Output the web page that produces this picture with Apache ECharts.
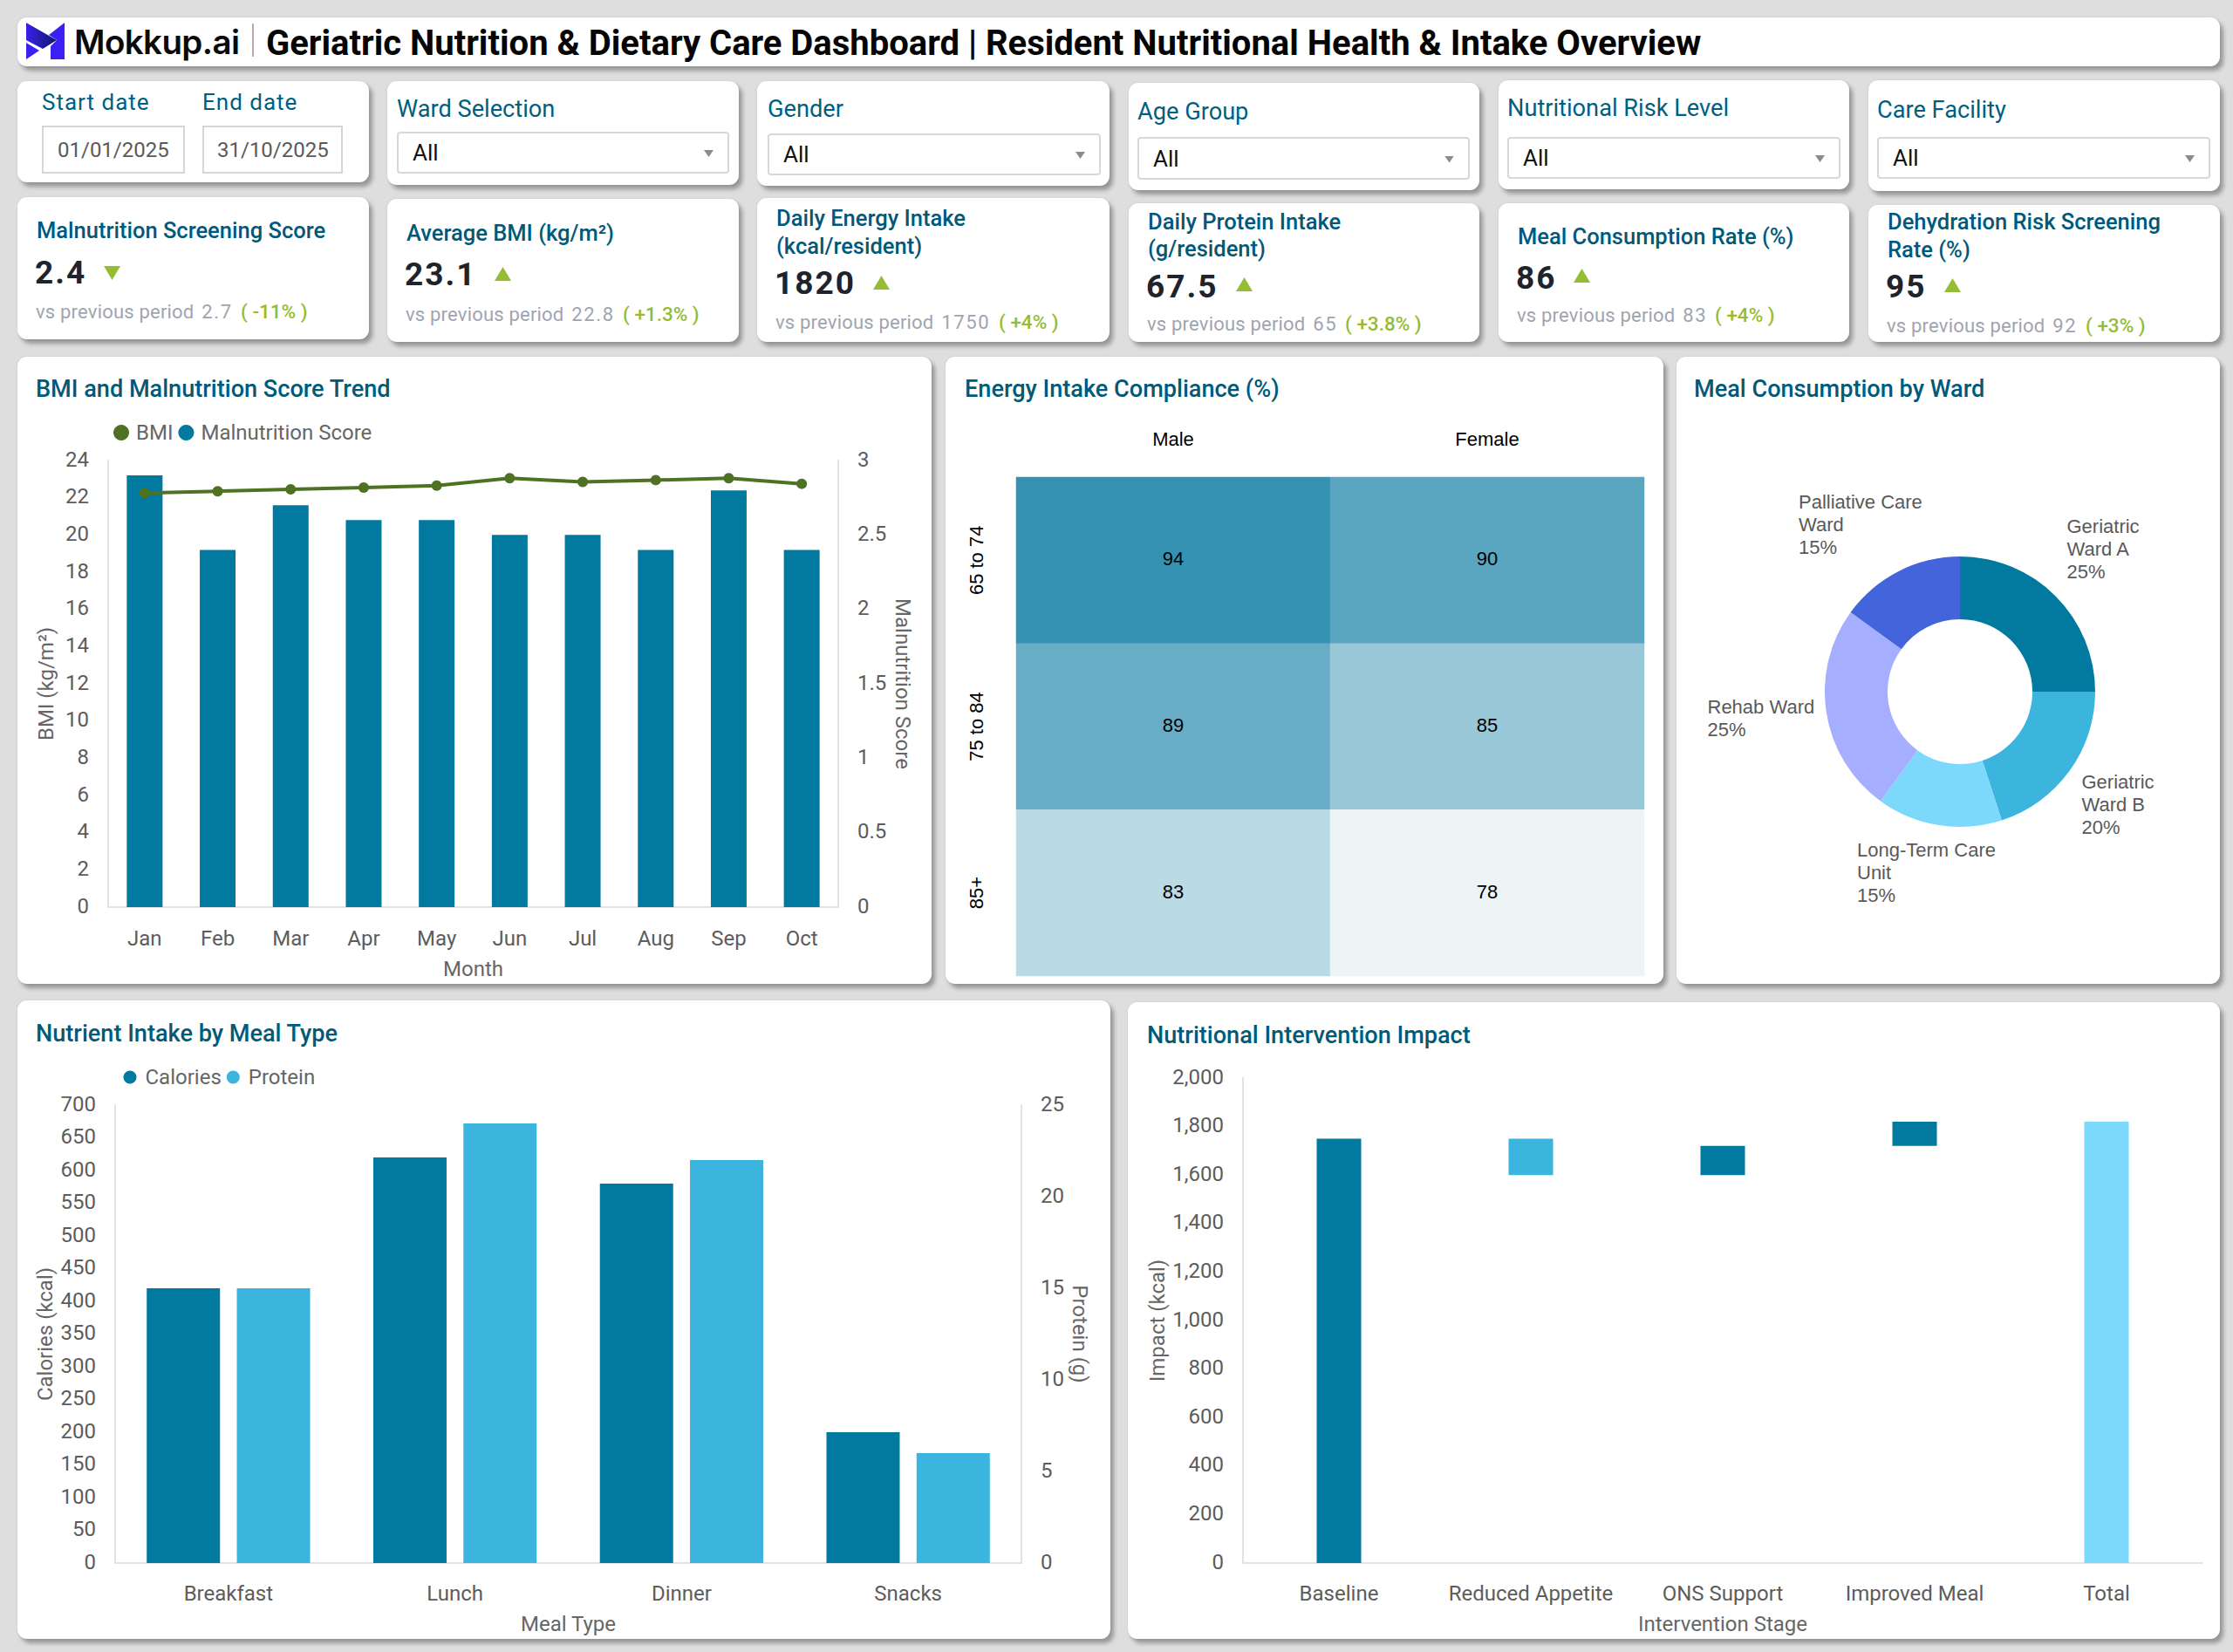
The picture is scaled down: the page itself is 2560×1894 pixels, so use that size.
<!DOCTYPE html>
<html><head><meta charset="utf-8">
<style>
html,body{margin:0;padding:0;width:2560px;height:1894px;overflow:hidden;background:#dedede;font-family:Roboto,sans-serif}
.card{position:absolute;background:#fff;border-radius:11px;box-shadow:4px 5px 5px rgba(0,0,0,.32),0 0 3px rgba(0,0,0,.08)}
.t{position:absolute;white-space:nowrap;transform:translateY(-50%);line-height:1}
.box{position:absolute;box-sizing:border-box;background:#fff}
.chart{position:absolute}
</style></head><body>
<svg style="position:absolute;left:0;top:0;z-index:5" width="90" height="80" id="logo">
<defs><linearGradient id="lg" x1="0" x2="1" y1="0" y2="0"><stop offset="0" stop-color="#3a20e8"/><stop offset="1" stop-color="#0c1a6a"/></linearGradient></defs>
<path d="M30 26L65 46L49 56L30 46Z" fill="url(#lg)"/>
<path d="M30 49L45 58L30 68Z" fill="#3b1ff5"/>
<path d="M74 26L74 68L58 68L58 53L65 46L56 40Z" fill="#3b1ff5"/>
</svg>
<script src="https://cdn.jsdelivr.net/npm/echarts@6/dist/echarts.min.js"></script>
<script>
// ---------- data ----------
const months = ['Jan','Feb','Mar','Apr','May','Jun','Jul','Aug','Sep','Oct'];
const bmiValues = [22.25,22.35,22.45,22.55,22.65,23.05,22.85,22.95,23.05,22.75];
const malnutritionValues = [2.9,2.4,2.7,2.6,2.6,2.5,2.5,2.4,2.8,2.4];
const genders = ['Male','Female'];
const ageBands = ['65 to 74','75 to 84','85+'];
const complianceMale = [94,89,83];
const complianceFemale = [90,85,78];
const wards = ['Geriatric Ward A','Geriatric Ward B','Long-Term Care Unit','Rehab Ward','Palliative Care Ward'];
const wardLabels = ['Geriatric\nWard A','Geriatric\nWard B','Long-Term Care\nUnit','Rehab Ward','Palliative Care\nWard'];
const wardShares = [25,20,15,25,15];
const mealTypes = ['Breakfast','Lunch','Dinner','Snacks'];
const calories = [420,620,580,200];
const protein = [15,24,22,6];
const stages = ['Baseline','Reduced Appetite','ONS Support','Improved Meal','Total'];
const impactBase = [0,1600,1600,1720,0];
const impactBaseline = [1750,null,null,null,null];
const impactDecrease = [null,150,null,null,null];
const impactIncrease = [null,null,120,100,null];
const impactTotal = [null,null,null,null,1820];
const kpiTitles = [['Malnutrition Screening Score'],['Average BMI (kg/m²)'],['Daily Energy Intake','(kcal/resident)'],['Daily Protein Intake','(g/resident)'],['Meal Consumption Rate (%)'],['Dehydration Risk Screening','Rate (%)']];
const kpiValues = ['2.4','23.1','1820','67.5','86','95'];
const kpiPrevious = ['2.7','22.8','1750','65','83','92'];
const kpiDeltas = ['-11%','+1.3%','+4%','+3.8%','+4%','+3%'];
const kpiDown = [true,false,false,false,false,false];
const filterLabels = ['Ward Selection','Gender','Age Group','Nutritional Risk Level','Care Facility'];
const filterValue = 'All';
const startDate = '01/01/2025', endDate = '31/10/2025';

// ---------- palette ----------
const TEAL='#02799f', SKY='#3bb5de', ICE='#7cd9fc', LILAC='#a5aeff', ROYAL='#4464dc', GREEN='#4f7124';
const HEAD='#005a78', AXIS='#5c5c5c', LINE='#e2e2e2', UP='#94bc34';
const heatColours = {94:'#3692b3',90:'#5aa5bf',89:'#68adc5',85:'#98c8d8',83:'#badae4',78:'#ecf4f6'};

// ---------- layout of the page ----------
const cardRects = [[20,20,2545,76],[20,93,423,209],[444,93,847,212],[868,93,1272,213],[1294,95,1696,218],[1718,92,2120,217],[2142,92,2545,219],
 [20,226,423,389],[444,228,847,392],[868,227,1272,392],[1294,233,1696,392],[1718,233,2120,392],[2142,235,2545,392],
 [20,409,1068,1128],[1084,409,1907,1128],[1922,409,2545,1128],[20,1147,1273,1879],[1293,1149,2545,1879]];
cardRects.forEach(r=>{const d=document.createElement('div');d.className='card';d.style.cssText=`left:${r[0]}px;top:${r[1]}px;width:${r[2]-r[0]}px;height:${r[3]-r[1]}px`;document.body.appendChild(d);});
function text(x,y,s,css){const d=document.createElement('div');d.className='t';d.textContent=s;d.style.cssText=`left:${x}px;top:${y}px;z-index:4;`+css;document.body.appendChild(d);return d;}
function box(x0,y0,x1,y1,css){const d=document.createElement('div');d.className='box';d.style.cssText=`left:${x0}px;top:${y0}px;width:${x1-x0}px;height:${y1-y0}px;z-index:3;`+css;document.body.appendChild(d);}

text(85,48,'Mokkup.ai','font:600 38.5px Inter,sans-serif;color:#0a0a0a;letter-spacing:-.6px');
box(289,27,291,65,'background:#b9a9a9');
text(305,49,'Geriatric Nutrition & Dietary Care Dashboard | Resident Nutritional Health & Intake Overview','font:700 40px Roboto;color:#050505');

const labelCss='font:400 26px Roboto;color:#005f80;';
text(48,117,'Start date',labelCss+'letter-spacing:1px');
text(232,117,'End date',labelCss+'letter-spacing:1px');
box(48,144,212,199,'border:2px solid #d6d6d6');
box(232,144,393,199,'border:2px solid #d6d6d6');
text(66,172,startDate,'font:400 24px Roboto;color:#5a5a5a;letter-spacing:0');
text(249,172,endDate,'font:400 24px Roboto;color:#5a5a5a;letter-spacing:0');

const filterBoxes=[[455,125,151,199,836],[880,125,153,201,1262],[1304,128,157,206,1685],[1728,124,157,205,2110],[2152,126,157,205,2534]];
filterBoxes.forEach((b,i)=>{
 text(b[0],b[1],filterLabels[i],'font:400 27.2px Roboto;color:#005f80');
 box(b[0],b[2],b[4],b[3],'border:2px solid #d8d8d8;border-radius:4px');
 const cy=(b[2]+b[3])/2;
 text(b[0]+18,cy,filterValue,'font:400 26px Roboto;color:#111');
 box(b[4]-29,cy-3,b[4]-18,cy+5,'background:#8c8c8c;clip-path:polygon(0 0,100% 0,50% 100%)');
});

const kpiBoxes=[
 {x:40,t:[264],v:312,a:119,ay:305,p:357,g:276,tx:42},
 {x:464,t:[267],v:314,a:567,ay:306,p:360,g:714,tx:466},
 {x:888,t:[250,282],v:324,a:1001,ay:316,p:369,g:1145,tx:890},
 {x:1314,t:[254,285],v:328,a:1417,ay:318,p:371,g:1542,tx:1316},
 {x:1738,t:[271],v:318,a:1804,ay:308,p:361,g:1966,tx:1740},
 {x:2162,t:[254,286],v:328,a:2229,ay:319,p:373,g:2391,tx:2164}];
kpiBoxes.forEach((k,i)=>{
 kpiTitles[i].forEach((s,j)=>text(k.tx,k.t[j],s,'font:500 25.5px Roboto;color:#00597a'));
 text(k.x,k.v,kpiValues[i],'font:700 37px Roboto;color:#20232b;letter-spacing:2px');
 box(k.a,k.ay,k.a+19,k.ay+16,'background:'+UP+';clip-path:polygon('+(kpiDown[i]?'0 0,100% 0,50% 100%':'50% 0,100% 100%,0 100%')+')');
 const prev=text(k.x+1,k.p,'vs previous period ','font:400 22px Roboto;color:#a0a4b0;letter-spacing:.2px');
 const num=document.createElement('span');num.textContent=kpiPrevious[i];num.style.cssText='letter-spacing:1.7px;margin-left:3px';prev.appendChild(num);
 text(k.g,k.p,'( '+kpiDeltas[i]+' )','font:500 22.5px Roboto;color:'+UP);
});

const headCss='font:500 27.1px Roboto;color:'+HEAD;
text(41,446,'BMI and Malnutrition Score Trend',headCss);
text(1106,446,'Energy Intake Compliance (%)',headCss);
text(1942,446,'Meal Consumption by Ward',headCss);
text(41,1185,'Nutrient Intake by Meal Type',headCss);
text(1315,1187,'Nutritional Intervention Impact',headCss);

// ---------- charts ----------
function mount(x0,y0,x1,y1){const d=document.createElement('div');d.className='chart';d.style.cssText=`left:${x0}px;top:${y0}px;width:${x1-x0}px;height:${y1-y0}px;z-index:2`;document.body.appendChild(d);return echarts.init(d,null,{renderer:'svg',width:x1-x0,height:y1-y0});}
const tick={fontFamily:'Roboto',fontSize:24,color:AXIS};
const nameStyle={fontFamily:'Roboto',fontSize:24,color:'#666'};
const axisLine={show:true,lineStyle:{color:LINE,width:2}};
function catAxis(data,name,gap,margin){return {type:'category',data,name,nameLocation:'middle',nameGap:gap,nameMoveOverlap:false,nameTextStyle:nameStyle,axisLine,axisTick:{show:false},axisLabel:Object.assign({interval:0,margin:margin},tick),splitLine:{show:false}};}
function valAxis(min,max,interval,name,gap,right){return {type:'value',min,max,interval,name,nameLocation:'middle',nameGap:gap,nameMoveOverlap:false,nameRotate:right?-90:90,nameTextStyle:nameStyle,position:right?'right':'left',axisLine,axisTick:{show:false},axisLabel:Object.assign({margin:22,showMinLabel:true,showMaxLabel:true,verticalAlign:'bottom',lineHeight:3},tick),splitLine:{show:false}};}
function legend(left,top,size,gap,pad,names){return {show:true,left,top,icon:'circle',itemWidth:size,itemHeight:size,itemGap:gap,data:names,padding:0,textStyle:{fontFamily:'Roboto',fontSize:24,color:'#666',padding:[0,0,0,pad]}};}

// BMI & malnutrition
mount(20,409,1068,1128).setOption({animation:false,
 legend:legend(110,75,18,6,3,['BMI','Malnutrition Score']),
 grid:{left:104,right:107,top:119,bottom:87,containLabel:false},
 xAxis:catAxis(months,'Month',59,24),
 yAxis:[valAxis(0,24,2,'BMI (kg/m²)',59,false),valAxis(0,3,0.5,'Malnutrition Score',62,true)],
 series:[
  {name:'Malnutrition Score',type:'bar',yAxisIndex:1,data:malnutritionValues,barWidth:41,itemStyle:{color:TEAL}},
  {name:'BMI',type:'line',yAxisIndex:0,data:bmiValues,symbol:'circle',symbolSize:12,showSymbol:true,lineStyle:{color:GREEN,width:4},itemStyle:{color:GREEN},z:5}
 ]});

// Energy compliance heatmap
const complianceCells=[];
ageBands.forEach((a,r)=>{complianceCells.push([0,r,complianceMale[r]],[1,r,complianceFemale[r]]);});
const blackText={fontFamily:'Liberation Sans',fontSize:22,color:'#000'};
mount(1084,409,1907,1128).setOption({animation:false,
 grid:{left:81,right:22,top:138,bottom:9},
 xAxis:{type:'category',position:'top',data:genders,axisLine:{show:false},axisTick:{show:false},axisLabel:Object.assign({margin:33},blackText),splitLine:{show:false}},
 yAxis:{type:'category',inverse:true,data:ageBands,axisLine:{show:false},axisTick:{show:false},axisLabel:Object.assign({rotate:90,margin:35,interval:0},blackText),splitLine:{show:false}},
 visualMap:{show:false,type:'piecewise',dimension:2,pieces:Object.keys(heatColours).map(v=>({value:+v,color:heatColours[v]}))},
 series:[{type:'heatmap',data:complianceCells,label:Object.assign({show:true,verticalAlign:'bottom',lineHeight:3},blackText)}]});

// Donut
const wardLabelAnchors=[[447.5,181],[464.5,474.5],[207,552],[35.5,388],[140,153]];
mount(1922,409,2545,1128).setOption({animation:false,
 series:[{type:'pie',center:[325,384],radius:[83,155],startAngle:90,clockwise:true,
  data:wards.map((n,i)=>({name:n,value:wardShares[i]})),
  color:[TEAL,SKY,ICE,LILAC,ROYAL],
  label:{show:true,position:'outside',overflow:'none',formatter:p=>wardLabels[p.dataIndex]+'\n'+p.value+'%',fontFamily:'Liberation Sans',fontSize:22,lineHeight:26,color:'#595959',align:'left'},
  labelLine:{show:false},emphasis:{disabled:true},
  labelLayout:p=>({x:wardLabelAnchors[p.dataIndex][0],y:wardLabelAnchors[p.dataIndex][1],align:'left',verticalAlign:'top'})
 }]});

// Nutrient intake
mount(20,1147,1273,1879).setOption({animation:false,
 legend:legend(121.5,76,15,6,5,['Calories','Protein']),
 grid:{left:112,right:102,top:120,bottom:87},
 xAxis:catAxis(mealTypes,'Meal Type',58,23),
 yAxis:[valAxis(0,700,50,'Calories (kcal)',68,false),valAxis(0,25,5,'Protein (g)',55,true)],
 series:[
  {name:'Calories',type:'bar',yAxisIndex:0,data:calories,barWidth:84,barGap:'23%',itemStyle:{color:TEAL}},
  {name:'Protein',type:'bar',yAxisIndex:1,data:protein,barWidth:84,barGap:'23%',itemStyle:{color:SKY}}
 ]});

// Intervention waterfall
const wf=(name,data,color)=>({name,type:'bar',stack:'impact',data,barWidth:51,itemStyle:{color}});
mount(1293,1149,2545,1879).setOption({animation:false,
 grid:{left:132,right:20,top:87,bottom:87},
 xAxis:catAxis(stages,'Intervention Stage',58,23),
 yAxis:valAxis(0,2000,200,'Impact (kcal)',86,false),
 series:[wf('Base',impactBase,'transparent'),wf('Baseline',impactBaseline,TEAL),wf('Decrease',impactDecrease,SKY),wf('Increase',impactIncrease,TEAL),wf('Total',impactTotal,ICE)]});
</script>
</body></html>
